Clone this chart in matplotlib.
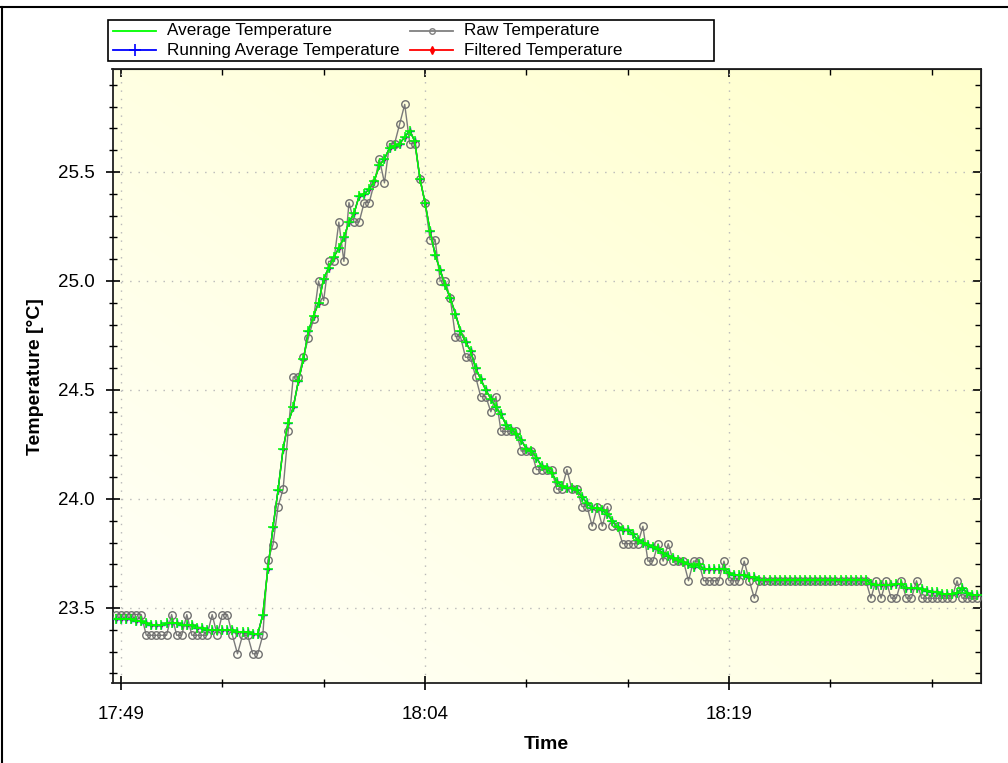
import matplotlib
matplotlib.use('Agg')
import matplotlib.pyplot as plt
import matplotlib.dates as mdates
import numpy as np
from datetime import datetime, timedelta
from matplotlib.lines import Line2D
from matplotlib.patches import Rectangle

plt.rcParams['font.family'] = ['Liberation Sans', 'DejaVu Sans']

# ---------------- data ----------------
start_time = datetime(2024, 1, 1, 17, 48, 45)
sample_seconds = 15

raw_temperature = (
    [23.47] * 6 + [23.375] * 5 + [23.47] + [23.375] * 2 + [23.47] + [23.375] * 4 +
    [23.47, 23.375, 23.47, 23.47, 23.375, 23.29, 23.375, 23.375, 23.29, 23.29, 23.375] +
    [23.72, 23.79, 23.965, 24.045, 24.31, 24.56, 24.56, 24.65, 24.74, 24.825] +
    [25.0, 24.91, 25.09, 25.09, 25.27, 25.09, 25.36, 25.27, 25.27, 25.36] +
    [25.36, 25.45, 25.56, 25.45, 25.63, 25.63, 25.72, 25.81, 25.63, 25.63] +
    [25.47, 25.36, 25.19, 25.19, 25.0, 25.0, 24.92, 24.745, 24.745, 24.65] +
    [24.65, 24.56, 24.47, 24.47, 24.40, 24.47, 24.31, 24.31, 24.31, 24.31] +
    [24.22, 24.22, 24.22, 24.135, 24.135, 24.135, 24.135, 24.045, 24.045, 24.135] +
    [24.045, 24.045, 23.965, 23.965, 23.875, 23.965, 23.875, 23.965, 23.875, 23.875] +
    [23.795, 23.795, 23.795, 23.795, 23.875, 23.715, 23.715, 23.795, 23.715, 23.795] +
    [23.715, 23.715, 23.715, 23.625, 23.715, 23.715, 23.625, 23.625, 23.625, 23.625] +
    [23.715, 23.625, 23.625, 23.625, 23.715, 23.625, 23.545, 23.625, 23.625, 23.625] +
    [23.625] * 10 +
    [23.625] * 9 + [23.545] +
    [23.625, 23.545, 23.625, 23.545, 23.545, 23.625, 23.545, 23.545, 23.625, 23.545] +
    [23.545] * 6 + [23.625, 23.545, 23.545, 23.545] +
    [23.545]
)

average_temperature = (
    [23.45, 23.45, 23.45, 23.45, 23.44, 23.44, 23.43, 23.42, 23.42, 23.42] +
    [23.43, 23.43, 23.43, 23.42, 23.42, 23.42, 23.41, 23.41, 23.40, 23.40] +
    [23.40, 23.40, 23.40, 23.40, 23.39, 23.39, 23.39, 23.38, 23.38, 23.47] +
    [23.68, 23.87, 24.04, 24.23, 24.35, 24.42, 24.54, 24.64, 24.77, 24.84] +
    [24.90, 25.01, 25.06, 25.11, 25.15, 25.20, 25.27, 25.31, 25.39, 25.40] +
    [25.42, 25.46, 25.53, 25.56, 25.61, 25.62, 25.63, 25.66, 25.69, 25.64] +
    [25.47, 25.36, 25.23, 25.12, 25.05, 24.98, 24.92, 24.85, 24.77, 24.72] +
    [24.68, 24.60, 24.55, 24.50, 24.46, 24.42, 24.39, 24.34, 24.32, 24.30] +
    [24.27, 24.23, 24.22, 24.19, 24.15, 24.14, 24.12, 24.08, 24.06, 24.05] +
    [24.05, 24.04, 24.01, 23.98, 23.96, 23.96, 23.95, 23.93, 23.90, 23.87] +
    [23.86, 23.86, 23.84, 23.81, 23.80, 23.79, 23.78, 23.77, 23.75, 23.74] +
    [23.73, 23.72, 23.71, 23.70, 23.69, 23.70, 23.68, 23.68, 23.68, 23.68] +
    [23.68, 23.66, 23.65, 23.65, 23.65, 23.64, 23.64, 23.63, 23.63, 23.63] +
    [23.63] * 10 +
    [23.63] * 9 + [23.61] +
    [23.605, 23.605, 23.605, 23.605, 23.61, 23.61, 23.59, 23.59, 23.59, 23.585] +
    [23.58, 23.575, 23.575, 23.565, 23.565, 23.565, 23.57, 23.59, 23.57, 23.56] +
    [23.56]
)

running_average_temperature = average_temperature
filtered_temperature = average_temperature

series_labels = ['Average Temperature', 'Running Average Temperature',
                 'Raw Temperature', 'Filtered Temperature']

times = [start_time + timedelta(seconds=sample_seconds * i) for i in range(len(raw_temperature))]

# ---------------- figure ----------------
W, H = 1008, 763
fig = plt.figure(figsize=(W / 100, H / 100), dpi=100)
ax = fig.add_axes([112.5 / W, 1 - 683.3 / H, (980.7 - 112.5) / W, (683.3 - 69.3) / H])

# gradient background
gx, gy = np.meshgrid(np.linspace(0, 1, 200), np.linspace(0, 1, 200))
t = (gx + gy) / 2.0
c0 = np.array([1.0, 1.0, 0.975])
c1 = np.array([1.0, 1.0, 0.80])
img = c0[None, None, :] * (1 - t[..., None]) + c1[None, None, :] * t[..., None]
ax.imshow(img, extent=[0, 1, 0, 1], transform=ax.transAxes, origin='lower',
          aspect='auto', zorder=0, interpolation='bilinear')

ax.plot(times, filtered_temperature, color='red', lw=1, marker='d', ms=2, zorder=2)
ax.plot(times, running_average_temperature, color='blue', lw=1, marker='+', ms=6, zorder=3)
ax.plot(times, raw_temperature, color='#7a7a7a', lw=1.0, marker='o', ms=5.4,
        mfc='none', mec='#707070', mew=1.0, zorder=4)
ax.plot(times, average_temperature, color='#00ff00', lw=1.1, marker='+', ms=7,
        mew=1.1, zorder=5)

x0 = start_time - timedelta(seconds=10)
x1 = datetime(2024, 1, 1, 18, 31, 25)
ax.set_xlim(x0, x1)
ax.set_ylim(23.1546, 25.971)

ax.xaxis.set_major_locator(mdates.MinuteLocator(byminute=[4, 19, 34, 49]))
ax.xaxis.set_minor_locator(mdates.MinuteLocator(byminute=list(range(4, 60, 5))))
ax.xaxis.set_major_formatter(mdates.DateFormatter('%H:%M'))
ax.yaxis.set_major_locator(plt.MultipleLocator(0.5))
ax.yaxis.set_minor_locator(plt.MultipleLocator(0.1))
ax.yaxis.set_major_formatter(plt.FormatStrFormatter('%.1f'))

ax.tick_params(which='major', direction='inout', length=10, width=1.2, labelsize=13.5, pad=8)
ax.tick_params(which='minor', direction='inout', length=6, width=1.0)
ax.tick_params(axis='x', which='major', pad=11)

for s in ax.spines.values():
    s.set_linewidth(1.3)
    s.set_color('#202020')

ax.grid(True, which='major', color='#b8b8b8', linestyle=(0, (1, 5)), linewidth=1.0, zorder=1)
ax.set_axisbelow(False)

secy = ax.secondary_yaxis('right')
secy.yaxis.set_major_locator(plt.MultipleLocator(0.5))
secy.yaxis.set_minor_locator(plt.MultipleLocator(0.1))
secy.tick_params(which='major', direction='in', length=6, width=1.2, labelright=False)
secy.tick_params(which='minor', direction='in', length=4, width=1.0)

secx = ax.secondary_xaxis('top')
secx.xaxis.set_major_locator(mdates.MinuteLocator(byminute=[4, 19, 34, 49]))
secx.xaxis.set_minor_locator(mdates.MinuteLocator(byminute=list(range(4, 60, 5))))
secx.tick_params(which='major', direction='in', length=6, width=1.2, labeltop=False)
secx.tick_params(which='minor', direction='in', length=4, width=1.0)

ax.set_xlabel('Time', fontsize=14, fontweight='bold', labelpad=10)
ax.set_ylabel('Temperature [°C]', fontsize=14, fontweight='bold', labelpad=10)

# ---------------- legend (ZedGraph style, equal-width columns) ----------------
def fx(px):
    return px / W

def fy(py):
    return 1 - py / H

fig.add_artist(Rectangle((fx(108), fy(60.5)), fx(714) - fx(108), fy(19.5) - fy(60.5),
                         transform=fig.transFigure, fill=True, facecolor='white',
                         edgecolor='black', lw=1.2))
legend_styles = [
    dict(color='#00ff00', lw=1.3),
    dict(color='blue', lw=1.3, marker='+', ms=8, mew=1.2),
    dict(color='#808080', lw=1.3, marker='o', ms=4, mfc='none', mec='#808080'),
    dict(color='red', lw=1.3, marker='d', ms=4),
]
col_x = [113, 410]
row_y = [31, 50]
for k, (lab, sty) in enumerate(zip(series_labels, legend_styles)):
    c, r = divmod(k, 2)
    xs, yv = col_x[c], row_y[r]
    fig.add_artist(Line2D([fx(xs), fx(xs + 43)], [fy(yv), fy(yv)], transform=fig.transFigure,
                          **{kk: vv for kk, vv in sty.items() if kk not in ('marker', 'ms', 'mew', 'mfc', 'mec')}))
    if 'marker' in sty:
        fig.add_artist(Line2D([fx(xs + 21.5)], [fy(yv)], transform=fig.transFigure, linestyle='none',
                              color=sty['color'], marker=sty['marker'], ms=sty['ms'],
                              mew=sty.get('mew', 1.0), mfc=sty.get('mfc', sty['color']),
                              mec=sty.get('mec', sty['color'])))
    fig.text(fx(xs + 54), fy(yv), lab, fontsize=12.3, va='center', ha='left')

# pane border lines (top and left)
fig.add_artist(Line2D([0, 1], [1 - 7 / H, 1 - 7 / H], color='black', lw=1.5, transform=fig.transFigure))
fig.add_artist(Line2D([2 / W, 2 / W], [0, 1 - 7 / H], color='black', lw=1.5, transform=fig.transFigure))

fig.savefig('out.png', dpi=100, facecolor='white')
